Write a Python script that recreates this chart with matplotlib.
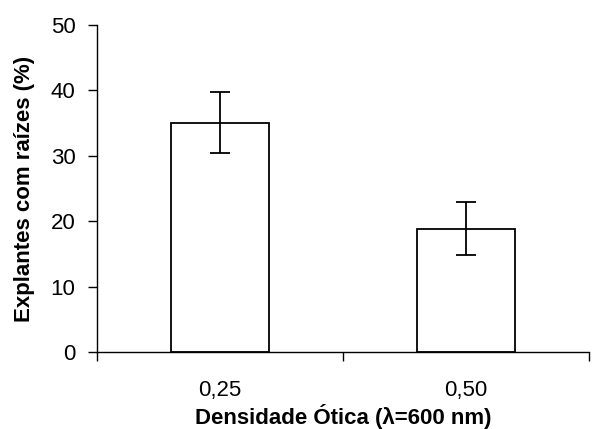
import matplotlib
matplotlib.use("Agg")
import matplotlib.pyplot as plt
import numpy as np

plt.rcParams['font.family'] = ['Liberation Sans', 'DejaVu Sans']

# data
categorias = ['0,25', '0,50']
valores = [35.1, 18.9]
erros = [4.7, 4.0]

fig = plt.figure(figsize=(5.94, 4.29), dpi=100)
ax = fig.add_axes([0.1633, 0.1788, 0.8284, 0.7629])

x = np.arange(len(categorias))
ax.bar(x, valores, width=0.4, color='white', edgecolor='black', linewidth=1.3,
       yerr=erros, capsize=7, error_kw=dict(elinewidth=1.3, capthick=1.3, ecolor='black'))

ax.set_xlim(-0.5, len(categorias) - 0.5)
ax.set_ylim(0, 50)
ax.set_yticks(np.arange(0, 51, 10))
ax.set_xticks(x)
ax.set_xticklabels(categorias)
ax.set_xticks(np.arange(-0.5, len(categorias), 1.0), minor=True)

ax.spines['top'].set_visible(False)
ax.spines['right'].set_visible(False)
for s in ('left', 'bottom'):
    ax.spines[s].set_linewidth(1.0)

ax.tick_params(axis='y', which='major', direction='out', length=6.5, width=1, labelsize=16, pad=9)
ax.tick_params(axis='x', which='major', length=0, labelsize=16, pad=20)
ax.tick_params(axis='x', which='minor', direction='out', length=6.5, width=1)

ax.set_ylabel('Explantes com raízes (%)', fontsize=16, fontweight='bold', labelpad=11)
ax.set_xlabel('Densidade Ótica (λ=600 nm)', fontsize=16, fontweight='bold', labelpad=2)

fig.savefig('out.png', dpi=100)
